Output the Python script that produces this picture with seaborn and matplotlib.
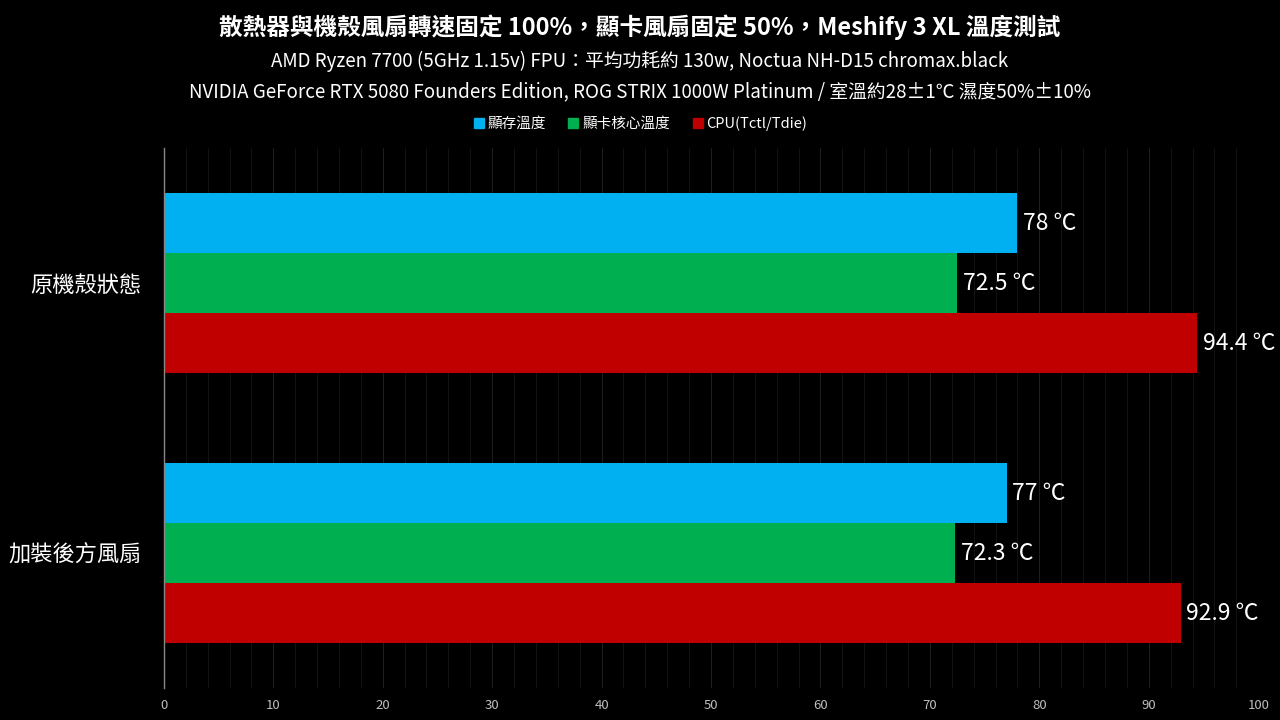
import numpy as np
import pandas as pd
import matplotlib.pyplot as plt
import seaborn as sns
from matplotlib.ticker import MultipleLocator

sns.set_style("dark")
plt.rcParams['font.family'] = ['Noto Sans CJK TC', 'DejaVu Sans']

# data
states = ['原機殼狀態', '加裝後方風扇']
series = ['顯存溫度', '顯卡核心溫度', 'CPU(Tctl/Tdie)']
vram_temp = [78, 77]
gpu_temp = [72.5, 72.3]
cpu_temp = [94.4, 92.9]
colors = ['#00B0F0', '#00B050', '#C00000']

title = '散熱器與機殼風扇轉速固定 100%，顯卡風扇固定 50%，Meshify 3 XL 溫度測試'
sub1 = 'AMD Ryzen 7700 (5GHz 1.15v) FPU：平均功耗約 130w, Noctua NH-D15 chromax.black'
sub2 = 'NVIDIA GeForce RTX 5080 Founders Edition, ROG STRIX 1000W Platinum / 室溫約28±1℃ 濕度50%±10%'

#--------------------------------------------------------------------------------------
df = pd.DataFrame({
    'state': states * 3,
    'series': [s for s in series for _ in states],
    'temp': vram_temp + gpu_temp + cpu_temp,
})

fig = plt.figure(figsize=(12.8, 7.2), dpi=100, facecolor='black')
ax = fig.add_axes([0.128, 0.0444, 0.855, 0.75])
ax.set_facecolor('black')

sns.barplot(data=df, y='state', x='temp', hue='series', hue_order=series,
            order=states, palette=colors, width=0.667, orient='h',
            saturation=1, ax=ax, legend=False, errorbar=None, linewidth=0)

for cont in ax.containers:
    ax.bar_label(cont, labels=[f'{v:g} ℃' for v in cont.datavalues],
                 padding=4, color='white', fontsize=16.5)

ax.set_xlim(0, 100)
ax.set_ylim(1.5, -0.5)
ax.xaxis.set_major_locator(MultipleLocator(10))
ax.xaxis.set_minor_locator(MultipleLocator(2))
ax.grid(True, axis='x', which='major', color='#1e1e1e', linewidth=0.8)
ax.grid(True, axis='x', which='minor', color='#121212', linewidth=0.8)
ax.grid(False, axis='y')
ax.set_axisbelow(True)
ax.tick_params(axis='x', which='both', length=0, colors='#bfbfbf', labelsize=9.5, pad=8)
ax.tick_params(axis='y', length=0, colors='white', labelsize=16, pad=16)
for s in ['top', 'right', 'bottom']:
    ax.spines[s].set_visible(False)
ax.spines['left'].set_color('#888888')
ax.spines['left'].set_linewidth(1)
ax.set_xlabel('')
ax.set_ylabel('')

fig.text(0.5, 0.962, title, ha='center', va='center', color='white',
         fontsize=17, fontweight='bold')
fig.text(0.5, 0.915, sub1, ha='center', va='center', color='white', fontsize=13.5)
fig.text(0.5, 0.873, sub2, ha='center', va='center', color='white', fontsize=13.5)

handles = [plt.Line2D([], [], marker='s', linestyle='', color=c, markersize=7) for c in colors]
fig.legend(handles, series, loc='center', bbox_to_anchor=(0.5, 0.828), ncol=3,
           frameon=False, fontsize=10.5, labelcolor='white', handletextpad=0.2,
           columnspacing=1.5, handlelength=0.8)

fig.savefig('out.png', facecolor='black')
